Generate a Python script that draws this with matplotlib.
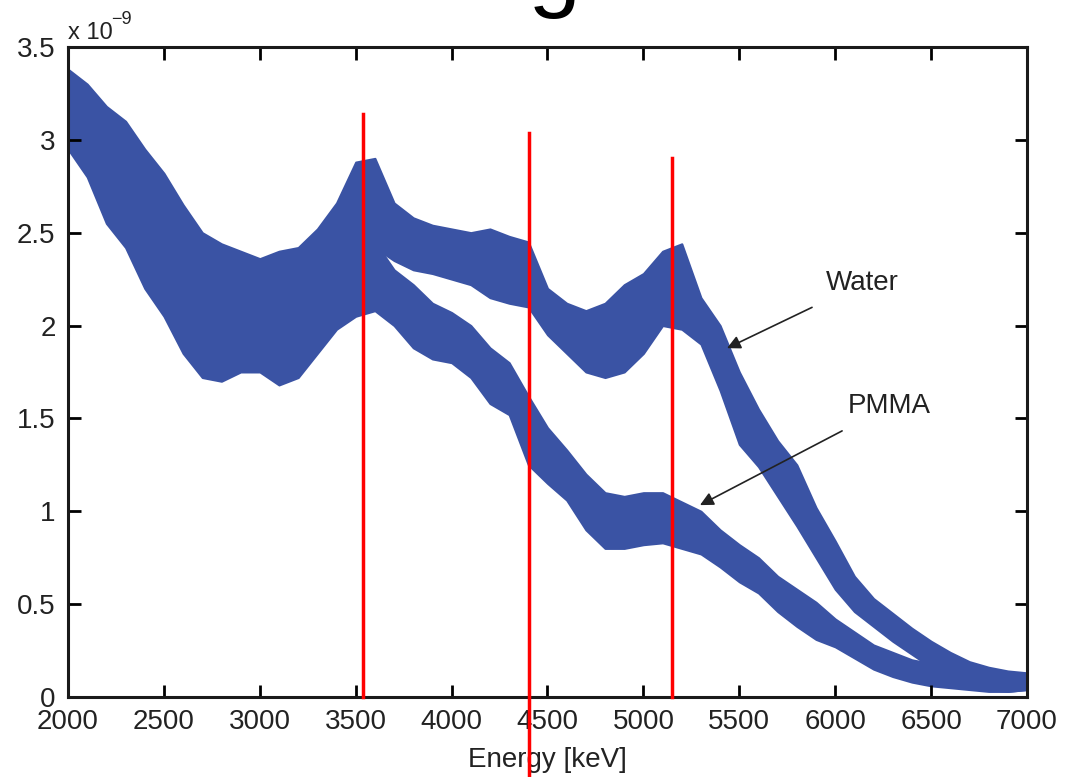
import matplotlib.pyplot as plt

plt.rcParams['font.family'] = ['Liberation Sans', 'DejaVu Sans']

# Data (values in units of 1e-9), band edges every 100 keV
energy = list(range(2000, 7001, 100))

water_hi = [3.38, 3.30, 3.18, 3.10, 2.95, 2.82, 2.65, 2.50, 2.44, 2.40,
            2.36, 2.40, 2.42, 2.52, 2.66, 2.88, 2.90, 2.66, 2.58, 2.54,
            2.52, 2.50, 2.52, 2.48, 2.45, 2.20, 2.12, 2.08, 2.12, 2.22,
            2.28, 2.40, 2.44, 2.15, 2.00, 1.75, 1.55, 1.38, 1.25, 1.02,
            0.84, 0.65, 0.53, 0.45, 0.37, 0.30, 0.24, 0.19, 0.16, 0.14, 0.13]
water_lo = [2.95, 2.85, 2.70, 2.55, 2.40, 2.28, 2.15, 2.05, 2.00, 1.98,
            1.98, 2.02, 2.08, 2.15, 2.25, 2.40, 2.42, 2.35, 2.30, 2.28,
            2.25, 2.22, 2.15, 2.12, 2.10, 1.95, 1.85, 1.75, 1.72, 1.75,
            1.85, 2.00, 1.98, 1.90, 1.65, 1.36, 1.24, 1.08, 0.92, 0.75,
            0.58, 0.46, 0.38, 0.30, 0.23, 0.16, 0.10, 0.06, 0.04, 0.03, 0.04]

pmma_hi = [3.30, 3.20, 3.05, 2.90, 2.70, 2.50, 2.30, 2.12, 2.05, 2.05,
           2.05, 2.08, 2.12, 2.25, 2.40, 2.55, 2.45, 2.30, 2.22, 2.12,
           2.07, 2.00, 1.88, 1.80, 1.62, 1.45, 1.33, 1.20, 1.10, 1.08,
           1.10, 1.10, 1.05, 1.00, 0.90, 0.82, 0.75, 0.65, 0.58, 0.51,
           0.42, 0.35, 0.28, 0.24, 0.20, 0.18, 0.16, 0.15, 0.14, 0.13, 0.12]
pmma_lo = [2.95, 2.80, 2.55, 2.42, 2.20, 2.05, 1.85, 1.72, 1.70, 1.75,
           1.75, 1.68, 1.72, 1.85, 1.98, 2.05, 2.08, 2.00, 1.88, 1.82,
           1.80, 1.72, 1.58, 1.52, 1.25, 1.15, 1.06, 0.90, 0.80, 0.80,
           0.82, 0.83, 0.80, 0.77, 0.70, 0.62, 0.56, 0.46, 0.38, 0.31,
           0.27, 0.21, 0.15, 0.11, 0.08, 0.06, 0.05, 0.04, 0.03, 0.03, 0.04]

# red marker lines: energy, top value, bottom value
marker_e = [3538, 4403, 5149]
marker_top = [3.14, 3.035, 2.90]
marker_bottom = [0.0, -0.45, 0.0]

blue = '#3a53a4'
txt = '#222222'

fig = plt.figure(figsize=(10.66, 7.77), dpi=100)
ax = fig.add_axes([0.0638, 0.103, 0.8996, 0.8366])

ax.fill_between(energy, water_lo, water_hi, color=blue, lw=1.5, edgecolor=blue)
ax.fill_between(energy, pmma_lo, pmma_hi, color=blue, lw=1.5, edgecolor=blue)

for e, t, b in zip(marker_e, marker_top, marker_bottom):
    ax.plot([e, e], [b, t], color='#ff0000', lw=2.5, clip_on=False, zorder=5)

ax.set_xlim(2000, 7000)
ax.set_ylim(0, 3.5)
ax.set_xticks(range(2000, 7001, 500))
ax.set_yticks([0, 0.5, 1, 1.5, 2, 2.5, 3, 3.5])
ax.set_yticklabels(['0', '0.5', '1', '1.5', '2', '2.5', '3', '3.5'])
ax.tick_params(direction='in', length=9, width=2, top=True, right=True,
               labelsize=20, labelcolor=txt, pad=9)
for s in ax.spines.values():
    s.set_linewidth(2.2)
    s.set_color('#1a1a1a')

ax.set_xlabel('Energy [keV]', fontsize=20, color=txt, labelpad=8)

# exponent label
fig.text(68 / 1066, 1 - 39 / 777, 'x 10', fontsize=17, color=txt, va='baseline')
fig.text(111 / 1066, 1 - 24 / 777, '\u22129', fontsize=13, color=txt, va='baseline')

ax.annotate('Water', xy=(5436, 1.878), xytext=(5952, 2.228), fontsize=20, color=txt,
            va='center', ha='left',
            arrowprops=dict(arrowstyle='-|>', color='#222222', lw=1.2,
                            mutation_scale=20, shrinkA=14, shrinkB=0))
ax.annotate('PMMA', xy=(5295, 1.033), xytext=(6067, 1.566), fontsize=20, color=txt,
            va='center', ha='left',
            arrowprops=dict(arrowstyle='-|>', color='#222222', lw=1.2,
                            mutation_scale=20, shrinkA=14, shrinkB=0))

# cropped large heading at the top edge
fig.text(339 / 1066, 1 + 1 / 777, 'energies', fontsize=68, color='black', va='baseline')

fig.savefig('out.png', dpi=100)
